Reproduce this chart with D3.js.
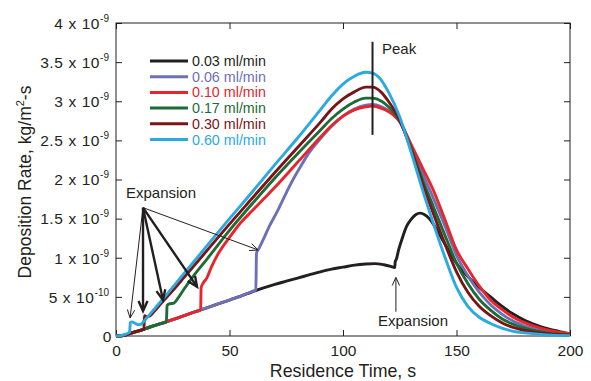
<!DOCTYPE html>
<html>
<head>
<meta charset="utf-8">
<script src="https://cdnjs.cloudflare.com/ajax/libs/d3/7.8.5/d3.min.js"></script>
<style>
  html, body { margin: 0; padding: 0; background: #fff; }
  svg { display: block; font-family: "Liberation Sans", Arial, Helvetica, sans-serif; }
</style>
</head>
<body>
<svg id="chart" width="591" height="381"></svg>
<script>
// ---------------- data (rate in units of 1e-9 kg/m^2-s, time in s) ----------------
const seriesNames = ["0.03 ml/min", "0.06 ml/min", "0.10 ml/min", "0.17 ml/min", "0.30 ml/min", "0.60 ml/min"];
const seriesColors = ["#231f20", "#6e70b6", "#e8252b", "#1d6b35", "#7a1417", "#2ba9e1"];

const flow003 = [[0,0],[2,0.003],[4,0.01],[6,0.03],[8,0.05],[10,0.065],[12,0.085],[15,0.115],[20,0.16],[25,0.21],[30,0.26],[35,0.31],[40,0.36],[45,0.41],[50,0.46],[55,0.51],[60,0.565],[65,0.615],[70,0.66],[75,0.7],[80,0.74],[85,0.78],[90,0.82],[95,0.855],[100,0.88],[105,0.905],[110,0.92],[114,0.925],[118,0.91],[121,0.89],[122.8,0.875],[123,0.95],[123.5,0.98],[124.5,1.1],[126,1.24],[128,1.4],[130,1.49],[132,1.55],[134,1.57],[136,1.55],[138,1.5],[140,1.42],[143,1.27],[145,1.17],[150,0.93],[155,0.76],[160,0.62],[165,0.5],[170,0.38],[175,0.28],[180,0.2],[187,0.12],[195,0.06],[200,0.03]];

const flow006 = [[0,0],[2,0.003],[4,0.01],[6,0.03],[8,0.05],[10,0.065],[12,0.085],[15,0.115],[20,0.16],[25,0.21],[30,0.26],[35,0.31],[40,0.36],[45,0.41],[50,0.46],[55,0.51],[60,0.57],[61.6,0.59],[61.9,1.06],[63,1.12],[65,1.24],[67,1.37],[71,1.59],[75,1.83],[78,2.0],[81,2.15],[85,2.34],[90,2.52],[95,2.68],[100,2.81],[105,2.9],[110,2.95],[113,2.96],[117,2.93],[120,2.88],[125,2.74],[130,2.43],[135,2.08],[140,1.75],[145,1.4],[150,1.03],[155,0.77],[160,0.56],[165,0.4],[170,0.28],[175,0.19],[180,0.13],[190,0.05],[200,0.02]];

const flow010 = [[0,0],[2,0.003],[4,0.01],[6,0.03],[8,0.05],[10,0.065],[12,0.085],[15,0.115],[20,0.16],[25,0.21],[30,0.26],[35,0.31],[37.3,0.335],[37.5,0.62],[38.5,0.68],[40,0.74],[42,0.88],[45,1.05],[50,1.26],[55,1.45],[60,1.6],[65,1.75],[70,1.9],[80,2.22],[90,2.54],[95,2.69],[100,2.81],[105,2.89],[110,2.93],[113,2.94],[117,2.91],[120,2.87],[125,2.74],[130,2.45],[135,2.15],[140,1.85],[145,1.48],[150,1.1],[155,0.86],[160,0.64],[165,0.46],[170,0.34],[175,0.24],[180,0.17],[187,0.1],[195,0.05],[200,0.03]];

const flow017 = [[0,0],[2,0.003],[4,0.01],[6,0.03],[8,0.05],[10,0.065],[12,0.085],[15,0.115],[20,0.16],[22.2,0.18],[22.5,0.39],[23.5,0.41],[25.5,0.42],[27,0.47],[30,0.6],[35,0.8],[40,0.98],[50,1.35],[60,1.69],[70,2.02],[80,2.33],[90,2.63],[95,2.78],[100,2.9],[105,2.99],[110,3.04],[113,3.04],[117,3.0],[120,2.93],[125,2.75],[130,2.4],[135,2.0],[140,1.64],[145,1.28],[150,0.93],[155,0.67],[160,0.47],[165,0.33],[170,0.22],[175,0.15],[180,0.1],[190,0.04],[200,0.015]];

const flow030 = [[0,0],[2,0.003],[4,0.01],[6,0.03],[8,0.05],[10,0.065],[12.3,0.088],[12.5,0.26],[13.5,0.245],[15,0.26],[17,0.32],[20,0.42],[25,0.58],[30,0.75],[40,1.09],[50,1.43],[60,1.76],[70,2.09],[80,2.41],[90,2.73],[95,2.9],[100,3.03],[105,3.12],[110,3.18],[113,3.18],[117,3.11],[120,3.0],[125,2.76],[130,2.38],[135,1.95],[140,1.55],[145,1.17],[150,0.82],[155,0.56],[160,0.38],[165,0.26],[170,0.17],[175,0.11],[180,0.07],[190,0.03],[200,0.01]];

const flow060 = [[0,0],[2,0.005],[4,0.02],[5.5,0.04],[6,0.05],[6.3,0.17],[7,0.18],[8.5,0.16],[10,0.145],[11,0.15],[12,0.18],[15,0.28],[20,0.45],[30,0.8],[40,1.15],[50,1.5],[60,1.84],[70,2.19],[80,2.53],[90,2.89],[95,3.07],[100,3.22],[105,3.32],[110,3.37],[113,3.36],[116,3.3],[120,3.12],[125,2.8],[130,2.35],[135,1.87],[140,1.42],[145,1.0],[150,0.62],[155,0.38],[160,0.24],[165,0.16],[170,0.1],[175,0.06],[180,0.04],[190,0.015],[200,0.005]];

const seriesData = [flow003, flow006, flow010, flow017, flow030, flow060];

const xTickValues = [0, 50, 100, 150, 200];
const yTickValues = [0, 0.5, 1, 1.5, 2, 2.5, 3, 3.5, 4];
const yTickMantissas = ["0", "5", "1", "1.5", "2", "2.5", "3", "3.5", "4"];
const yTickExponents = ["", "-10", "-9", "-9", "-9", "-9", "-9", "-9", "-9"];

// annotation anchor points (data units)
const expansionOrigin = [11.9, 1.64];
const expansionTargets = [[6.2, 0.23, "thin"], [11.9, 0.32, "thick"], [20.7, 0.46, "thick"], [35.7, 0.63, "thick"], [62.6, 1.10, "thin"]];
const expansionArrow2 = [[123.3, 0.31], [123.3, 0.75]];
const peakLine = [113, 3.76, 2.57];

// ---------------- drawing ----------------
const svg = d3.select("#chart");
const margin = { left: 116, right: 21, top: 23, bottom: 45 };
const W = 591, H = 381;
const x = d3.scaleLinear().domain([0, 200]).range([margin.left, W - margin.right]);
const y = d3.scaleLinear().domain([0, 4]).range([H - margin.bottom, margin.top]);
const ink = "#231f20";

svg.append("rect").attr("width", W).attr("height", H).attr("fill", "#fff");

// axes
const tickLen = 6;
const gx = svg.append("g").attr("transform", `translate(0,${y(0)})`)
  .call(d3.axisBottom(x).tickValues(xTickValues).tickSizeInner(-tickLen).tickSizeOuter(0).tickPadding(9));
const gxt = svg.append("g").attr("transform", `translate(0,${y(4)})`)
  .call(d3.axisTop(x).tickValues(xTickValues).tickSizeInner(-tickLen).tickSizeOuter(0).tickFormat(() => ""));
const gy = svg.append("g").attr("transform", `translate(${x(0)},0)`)
  .call(d3.axisLeft(y).tickValues(yTickValues).tickSizeInner(-tickLen).tickSizeOuter(0).tickFormat(() => ""));
const gyr = svg.append("g").attr("transform", `translate(${x(200)},0)`)
  .call(d3.axisRight(y).tickValues(yTickValues).tickSizeInner(-tickLen).tickSizeOuter(0).tickFormat(() => ""));

[gx, gxt, gy, gyr].forEach(g => {
  g.select(".domain").remove();
  g.selectAll(".tick line").attr("stroke", ink).attr("stroke-width", 1);
});
gx.selectAll(".tick text").attr("font-size", 15.5).attr("fill", ink)
  .attr("font-family", "'Liberation Sans', Arial, sans-serif");

// y tick labels with superscripts
gy.selectAll(".tick").each(function(d, i) {
  const t = d3.select(this).append("text")
    .attr("x", -7).attr("dy", "0.34em")
    .attr("text-anchor", "end").attr("fill", ink)
    .attr("font-size", 15.5).attr("letter-spacing", 0.6)
    .attr("font-family", "'Liberation Sans', Arial, sans-serif");
  if (yTickExponents[i] === "") {
    t.attr("x", -4).text(yTickMantissas[i]);
  } else {
    t.append("tspan").text(yTickMantissas[i] + " x 10");
    t.append("tspan").attr("font-size", 10).attr("dy", -7).attr("letter-spacing", 0).text(yTickExponents[i]);
  }
});

// frame
svg.append("rect")
  .attr("x", x(0)).attr("y", y(4))
  .attr("width", x(200) - x(0)).attr("height", y(0) - y(4))
  .attr("fill", "none").attr("stroke", ink).attr("stroke-width", 1);

// axis titles
svg.append("text")
  .attr("x", (x(0) + x(200)) / 2).attr("y", 377)
  .attr("text-anchor", "middle").attr("font-size", 17.8).attr("fill", ink)
  .text("Residence Time, s");

const yt = svg.append("text")
  .attr("transform", `translate(31,182) rotate(-90)`)
  .attr("text-anchor", "middle").attr("font-size", 17.5).attr("fill", ink);
yt.append("tspan").text("Deposition Rate, kg/m");
yt.append("tspan").attr("font-size", 11).attr("dy", -7).text("2");
yt.append("tspan").attr("dy", 7).text("-s");

// lines
const plot = svg.append("g");
const line = d3.line().x(d => x(d[0])).y(d => y(d[1])).curve(d3.curveMonotoneX);
const drawOrder = [0, 1, 2, 3, 4, 5];
drawOrder.forEach(i => {
  plot.append("path")
    .datum(seriesData[i])
    .attr("d", line)
    .attr("fill", "none")
    .attr("stroke", seriesColors[i])
    .attr("stroke-width", 2.9)
    .attr("stroke-linejoin", "round")
    .attr("stroke-linecap", "butt");
});

// legend
const legend = svg.append("g");
seriesNames.forEach((name, i) => {
  const cy = 61 + i * 15.7;
  legend.append("line")
    .attr("x1", 150).attr("x2", 188).attr("y1", cy).attr("y2", cy)
    .attr("stroke", seriesColors[i]).attr("stroke-width", 3);
  legend.append("text")
    .attr("x", 192).attr("y", cy + 5)
    .attr("font-size", 14.3).attr("fill", seriesColors[i])
    .text(name);
});

// arrows
function arrow(x1, y1, x2, y2, width, headLen) {
  const g = svg.append("g");
  const ang = Math.atan2(y2 - y1, x2 - x1);
  g.append("line").attr("x1", x1).attr("y1", y1).attr("x2", x2 - Math.cos(ang) * 1).attr("y2", y2 - Math.sin(ang) * 1)
    .attr("stroke", ink).attr("stroke-width", width);
  const spread = 0.42;
  const p1 = [x2 - headLen * Math.cos(ang - spread), y2 - headLen * Math.sin(ang - spread)];
  const p2 = [x2 - headLen * Math.cos(ang + spread), y2 - headLen * Math.sin(ang + spread)];
  g.append("path").attr("d", `M${p1[0]},${p1[1]} L${x2},${y2} L${p2[0]},${p2[1]}`)
    .attr("fill", "none").attr("stroke", ink).attr("stroke-width", width)
    .attr("stroke-linejoin", "miter").attr("stroke-linecap", "butt");
}
expansionTargets.forEach(t => {
  const thick = t[2] === "thick";
  arrow(x(expansionOrigin[0]), y(expansionOrigin[1]), x(t[0]), y(t[1]), thick ? 2.4 : 1, thick ? 11 : 9);
});
arrow(x(expansionArrow2[0][0]), y(expansionArrow2[0][1]), x(expansionArrow2[1][0]), y(expansionArrow2[1][1]), 1, 9);

svg.append("text").attr("x", 126).attr("y", 198).attr("font-size", 15).attr("fill", ink).text("Expansion");
svg.append("text").attr("x", 378).attr("y", 326).attr("font-size", 15).attr("fill", ink).text("Expansion");

// peak marker
svg.append("line")
  .attr("x1", x(peakLine[0])).attr("x2", x(peakLine[0]))
  .attr("y1", y(peakLine[1])).attr("y2", y(peakLine[2]))
  .attr("stroke", ink).attr("stroke-width", 2);
svg.append("text").attr("x", 382).attr("y", 54).attr("font-size", 15).attr("fill", ink).text("Peak");
</script>
</body>
</html>
